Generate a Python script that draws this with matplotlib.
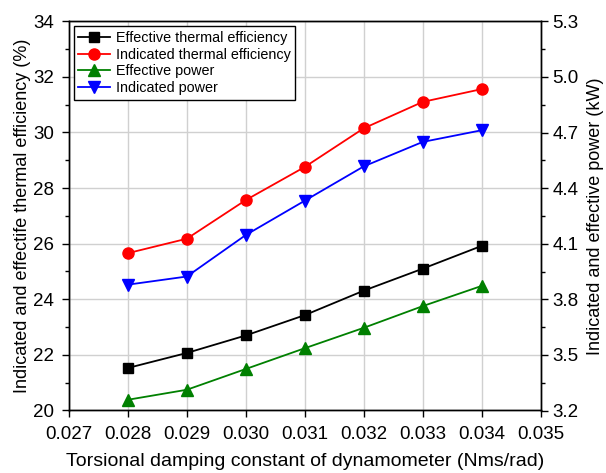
import matplotlib
matplotlib.use("Agg")
import numpy as np
import matplotlib.pyplot as plt
from matplotlib.ticker import MultipleLocator, FixedLocator, FormatStrFormatter

plt.rcParams['font.family'] = ['Liberation Sans', 'DejaVu Sans']

damping = [0.028, 0.029, 0.030, 0.031, 0.032, 0.033, 0.034]
eff_thermal = [21.53, 22.07, 22.70, 23.43, 24.31, 25.10, 25.92]
ind_thermal = [25.66, 26.18, 27.57, 28.76, 30.15, 31.10, 31.56]
eff_power = [3.258, 3.312, 3.424, 3.536, 3.646, 3.763, 3.872]
ind_power = [3.879, 3.923, 4.147, 4.332, 4.517, 4.649, 4.712]
power_ticks = [3.2, 3.5, 3.8, 4.1, 4.4, 4.7, 5.0, 5.3]

fig = plt.figure(figsize=(6.06, 4.73), dpi=100)
ax = fig.add_axes([69/606, 1-410.5/473, (540.5-69)/606, (410.5-21.3)/473])
ax2 = ax.twinx()

lw = 1.3
l1, = ax.plot(damping, eff_thermal, '-s', color='black', lw=lw, ms=7, label='Effective thermal efficiency')
l2, = ax.plot(damping, ind_thermal, '-o', color='red', lw=lw, ms=8, label='Indicated thermal efficiency')
l3, = ax2.plot(damping, eff_power, '-^', color='green', lw=lw, ms=8.5, label='Effective power')
l4, = ax2.plot(damping, ind_power, '-v', color='blue', lw=lw, ms=8.5, label='Indicated power')

ax.set_xlim(0.027, 0.035)
ax.set_ylim(20, 34)
ax2.set_ylim(power_ticks[0], power_ticks[-1])
ax.xaxis.set_major_locator(MultipleLocator(0.001))
ax.xaxis.set_major_formatter(FormatStrFormatter('%.3f'))
ax.yaxis.set_major_locator(MultipleLocator(2))
ax.yaxis.set_minor_locator(MultipleLocator(1))
ax2.yaxis.set_major_locator(FixedLocator(power_ticks))
minor = [(a + b) / 2 for a, b in zip(power_ticks[:-1], power_ticks[1:])]
ax2.yaxis.set_minor_locator(FixedLocator(minor))
ax2.yaxis.set_major_formatter(FormatStrFormatter('%.1f'))

ax.grid(True, color='#d0d0d0', lw=1.0)
ax.set_axisbelow(True)

for a in (ax, ax2):
    a.tick_params(which='major', direction='out', length=5, width=1, labelsize=13.5)
    a.tick_params(which='minor', direction='out', length=3, width=1)
    for s in a.spines.values():
        s.set_linewidth(1.0)
ax.tick_params(axis='x', which='major', pad=6)
ax.tick_params(axis='y', which='major', pad=6)
ax2.tick_params(axis='y', which='major', pad=3.5)

ax.set_xlabel('Torsional damping constant of dynamometer (Nms/rad)', fontsize=14, labelpad=7)
ax.set_ylabel('Indicated and effectife thermal efficiency (%)', fontsize=13, labelpad=1)
ax2.set_ylabel('Indicated and effective power (kW)', fontsize=13, labelpad=6)

leg = ax.legend(handles=[l1, l2, l3, l4], loc='upper left', fontsize=10.4,
                frameon=True, fancybox=False, edgecolor='black', framealpha=1,
                borderpad=0.3, labelspacing=0.2, handlelength=2.2, handletextpad=0.4,
                borderaxespad=0.35)
leg.get_frame().set_linewidth(1.0)

fig.savefig('out.png', dpi=100)
